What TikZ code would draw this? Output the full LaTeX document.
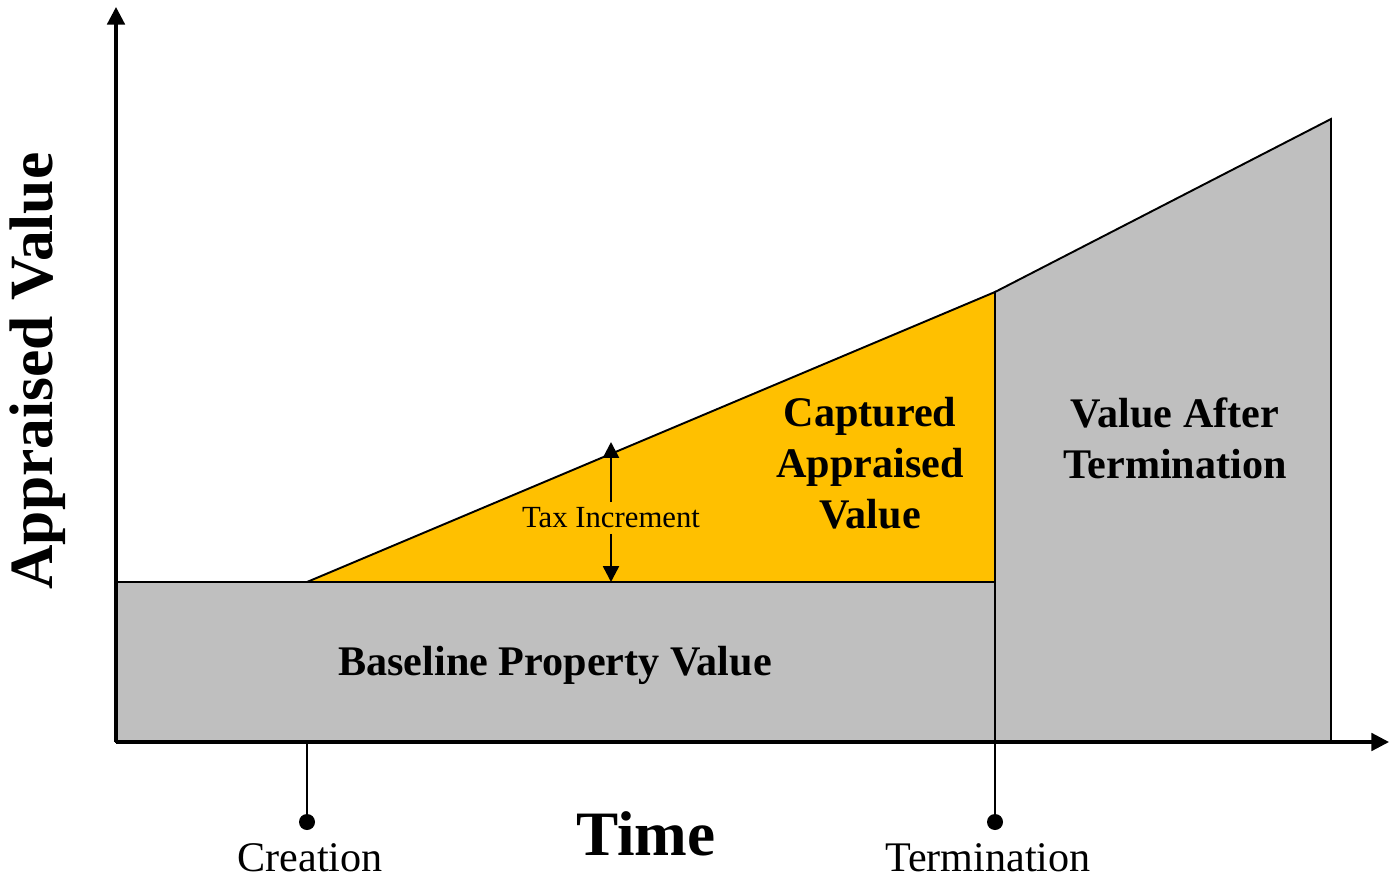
\documentclass[tikz,border=0pt]{standalone}
\usepackage{fontspec}
\setmainfont{Liberation Serif}
\usetikzlibrary{arrows.meta}
\definecolor{capyellow}{HTML}{FFC000}
\definecolor{valgray}{HTML}{BFBFBF}
\tikzset{
  axis/.style={line width=1.8pt,-{Triangle[length=10pt,width=10pt]}},
  region/.style={draw=black,line width=1.1pt},
  tick/.style={line width=1.4pt},
  bigbold/.style={font=\fontsize{24}{29}\selectfont\bfseries,align=center},
  plain/.style={font=\fontsize{24}{29}\selectfont}
}

\begin{document}
\begin{tikzpicture}[x=0.02cm,y=-0.02cm]
  \useasboundingbox (0,0) rectangle (1389,878);
  \coordinate (o) at (116,742);
  \coordinate (ytop) at (116,7);
  \coordinate (xend) at (1389,742);
  \coordinate (cr) at (307,582);
  \coordinate (tb) at (995,582);
  \coordinate (tt) at (995,292);
  \coordinate (tx) at (995,742);
  \coordinate (et) at (1331,119);
  \coordinate (eb) at (1331,742);
  \coordinate (bl) at (116,582);
  \coordinate (crdot) at (307,822);
  \coordinate (tmdot) at (995,822);
  \coordinate (crx) at (307,742);
  \coordinate (titop) at (611,442);
  \coordinate (tibot) at (611,582);

  % regions
  \draw[region,fill=valgray] (bl) -- (tb) -- (tx) -- (o) -- cycle;
  \draw[region,fill=capyellow] (cr) -- (tt) -- (tb) -- cycle;
  \draw[region,fill=valgray] (tt) -- (et) -- (eb) -- (tx) -- cycle;

  % axes
  \draw[axis] (o) -- (ytop);
  \draw[axis] (o) -- (xend);

  % creation and termination marks
  \draw[tick] (crx) -- (crdot);
  \draw[tick] (tx) -- (tmdot);
  \fill (crdot) circle (8);
  \fill (tmdot) circle (8);

  % tax increment
  \node[font=\fontsize{17.5}{20}\selectfont,fill=capyellow,inner xsep=0pt,inner ysep=3pt] (ti) at (611,518) {Tax Increment};
  \draw[tick,-{Triangle[length=9pt,width=9pt]}] (ti) -- (titop);
  \draw[tick,-{Triangle[length=9pt,width=9pt]}] (ti) -- (tibot);

  % labels
  \node[bigbold] (base) at (555,665) {Baseline Property Value};
  \node[bigbold] (cav) at (870,463) {Captured\\Appraised\\Value};
  \node[bigbold] (vat) at (1175,438) {Value After\\Termination};
  \node[plain] (creation) at (310,858) {Creation};
  \node[plain] (termination) at (988,858) {Termination};
  \node[font=\fontsize{36}{40}\selectfont\bfseries] (time) at (646,834) {Time};
  \node[font=\fontsize{35}{40}\selectfont\bfseries,rotate=90] (yl) at (38,371) {Appraised Value};
\end{tikzpicture}
\end{document}
